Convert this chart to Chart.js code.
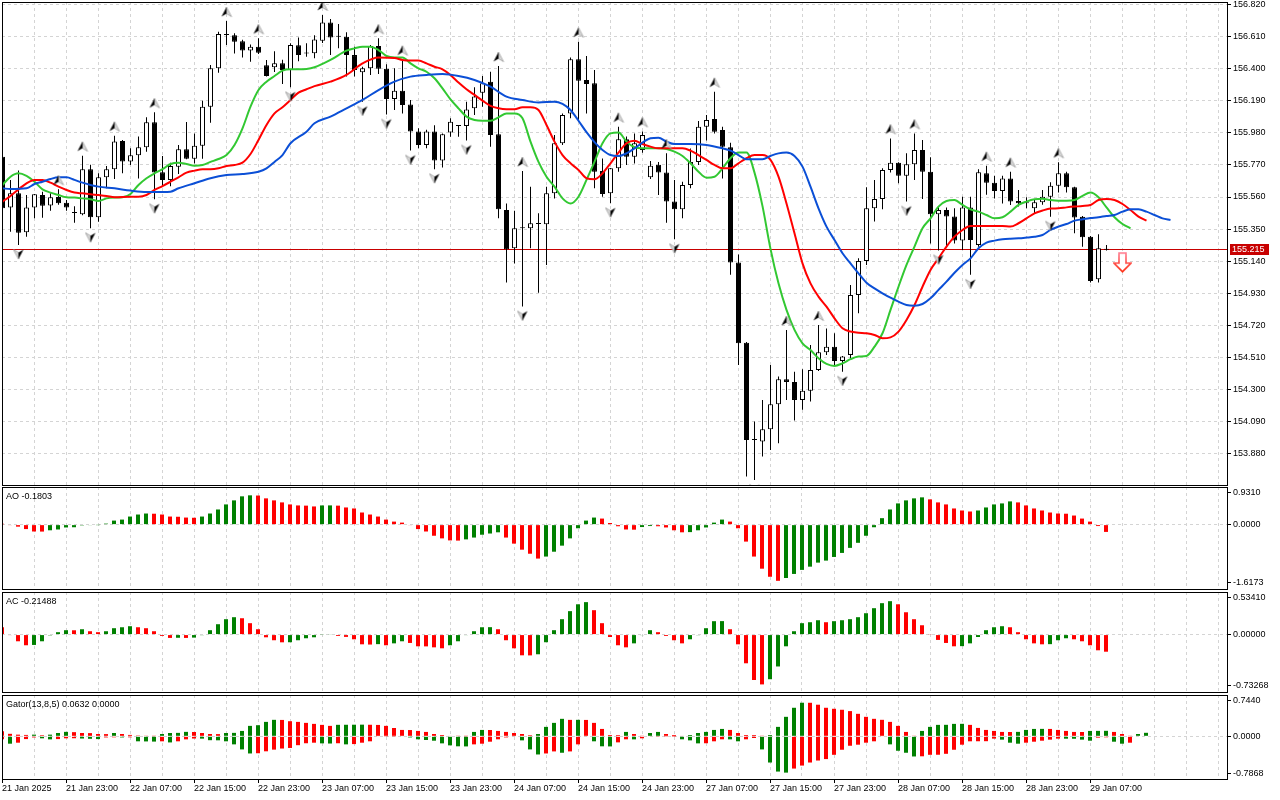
<!DOCTYPE html>
<html>
<head>
<meta charset="utf-8">
<title>USDJPY H1 - Alligator, Fractals, AO, AC, Gator</title>
<script src="https://cdn.jsdelivr.net/npm/chart.js@4.4.1/dist/chart.umd.min.js"></script>
<style>
  html, body { margin: 0; padding: 0; background: #fff; }
  #wrap { position: relative; width: 1280px; height: 800px; overflow: hidden; }
  #wrap canvas { position: absolute; left: 0; }
</style>
</head>
<body>
<div id="wrap">
  <canvas id="main" width="1280" height="487" style="top:0px"></canvas>
  <canvas id="ao" width="1280" height="103" style="top:487px"></canvas>
  <canvas id="ac" width="1280" height="101" style="top:592px"></canvas>
  <canvas id="gator" width="1280" height="105" style="top:695px"></canvas>
</div>
<script>
// ---- candles (H1, bar 0 = 21 Jan 15:00) ----
var opens = [
  155.824, 155.492, 155.584, 155.329, 155.492, 155.573, 155.505, 155.560, 155.523, 155.455,
  155.447, 155.742, 155.427, 155.689, 155.742, 155.927, 155.792, 155.833, 155.886, 156.050,
  155.722, 155.671, 155.759, 155.873, 155.810, 155.896, 156.152, 156.403, 156.628, 156.620,
  156.580, 156.520, 156.545, 156.423, 156.410, 156.436, 156.392, 156.554, 156.500, 156.502,
  156.584, 156.704, 156.610, 156.610, 156.490, 156.377, 156.403, 156.550, 156.400, 156.202,
  156.257, 156.167, 155.990, 155.900, 155.990, 155.800, 155.982, 156.025, 156.025, 156.142,
  156.244, 156.316, 155.971, 155.475, 155.224, 155.355, 155.355, 155.383, 155.381, 155.584,
  155.912, 156.108, 156.462, 156.327, 156.305, 155.730, 155.584, 155.748, 155.938, 155.824,
  155.868, 155.689, 155.772, 155.720, 155.530, 155.479, 155.639, 155.790, 156.021, 156.071,
  155.999, 155.886, 155.130, 154.605, 153.968, 153.957, 154.038, 154.201, 154.365, 154.348,
  154.230, 154.291, 154.426, 154.542, 154.579, 154.485, 154.525, 154.918, 155.141, 155.486,
  155.547, 155.737, 155.785, 155.700, 155.774, 155.868, 155.726, 155.447, 155.475, 155.432,
  155.275, 155.492, 155.245, 155.715, 155.654, 155.600, 155.682, 155.534, 155.519, 155.486,
  155.525, 155.562, 155.634, 155.715, 155.624, 155.431, 155.300, 155.021, 155.221
];
var highs = [
  155.850, 155.672, 155.733, 155.573, 155.580, 155.595, 155.584, 155.610, 155.540, 155.500,
  155.831, 155.772, 155.715, 155.763, 155.962, 155.934, 155.880, 155.956, 156.083, 156.115,
  155.829, 155.785, 155.901, 156.052, 155.977, 156.191, 156.425, 156.643, 156.713, 156.633,
  156.590, 156.560, 156.600, 156.458, 156.516, 156.460, 156.567, 156.606, 156.567, 156.620,
  156.753, 156.726, 156.694, 156.639, 156.545, 156.414, 156.556, 156.600, 156.430, 156.403,
  156.460, 156.196, 156.010, 156.000, 156.030, 155.977, 156.076, 156.032, 156.185, 156.279,
  156.353, 156.381, 156.418, 155.518, 155.470, 155.730, 155.628, 155.453, 155.628, 155.966,
  156.108, 156.475, 156.578, 156.484, 156.392, 155.813, 155.750, 156.021, 155.956, 155.977,
  155.990, 155.796, 155.790, 155.847, 155.672, 155.660, 155.878, 156.058, 156.097, 156.250,
  156.021, 155.916, 155.184, 154.610, 154.088, 154.230, 154.459, 154.383, 154.688, 154.415,
  154.431, 154.590, 154.721, 154.699, 154.667, 154.518, 154.983, 155.158, 155.624, 155.672,
  155.748, 155.944, 155.787, 155.846, 155.977, 155.934, 155.820, 155.497, 155.492, 155.486,
  155.562, 155.562, 155.742, 155.765, 155.700, 155.700, 155.726, 155.606, 155.558, 155.540,
  155.606, 155.656, 155.787, 155.726, 155.628, 155.435, 155.304, 155.316, 155.246
];
var lows = [
  155.470, 155.333, 155.245, 155.300, 155.420, 155.424, 155.470, 155.510, 155.470, 155.392,
  155.440, 155.355, 155.398, 155.617, 155.678, 155.715, 155.770, 155.682, 155.857, 155.545,
  155.630, 155.630, 155.711, 155.807, 155.780, 155.810, 156.047, 156.375, 156.556, 156.500,
  156.475, 156.447, 156.497, 156.350, 156.380, 156.300, 156.279, 156.450, 156.480, 156.469,
  156.570, 156.490, 156.535, 156.349, 156.349, 156.185, 156.360, 156.366, 156.100, 156.130,
  156.108, 155.864, 155.880, 155.880, 155.742, 155.753, 155.955, 155.955, 155.930, 156.097,
  156.152, 155.890, 155.420, 155.000, 155.125, 154.842, 155.224, 154.933, 155.115, 155.551,
  155.900, 156.076, 156.065, 156.108, 155.617, 155.562, 155.519, 155.726, 155.770, 155.780,
  155.850, 155.678, 155.573, 155.392, 155.283, 155.420, 155.617, 155.770, 155.930, 155.977,
  155.682, 155.050, 154.459, 153.728, 153.706, 153.859, 153.902, 153.946, 154.230, 154.095,
  154.165, 154.219, 154.420, 154.525, 154.459, 154.415, 154.503, 154.798, 155.115, 155.399,
  155.480, 155.720, 155.650, 155.530, 155.672, 155.547, 155.256, 155.210, 155.235, 155.256,
  155.213, 155.050, 155.234, 155.574, 155.550, 155.518, 155.508, 155.497, 155.486, 155.454,
  155.510, 155.431, 155.590, 155.590, 155.322, 155.234, 154.999, 154.999, 155.210
];
var closes = [
  155.486, 155.584, 155.326, 155.492, 155.578, 155.503, 155.558, 155.519, 155.492, 155.458,
  155.742, 155.427, 155.689, 155.742, 155.923, 155.792, 155.833, 155.886, 156.050, 155.720,
  155.671, 155.763, 155.873, 155.811, 155.896, 156.152, 156.403, 156.628, 156.622, 156.578,
  156.520, 156.545, 156.506, 156.353, 156.436, 156.392, 156.556, 156.490, 156.502, 156.593,
  156.704, 156.606, 156.612, 156.490, 156.392, 156.403, 156.550, 156.400, 156.202, 156.257,
  156.163, 155.990, 155.900, 155.990, 155.800, 155.971, 156.054, 156.030, 156.134, 156.218,
  156.305, 155.966, 155.480, 155.217, 155.355, 155.356, 155.388, 155.385, 155.584, 155.912,
  156.097, 156.462, 156.322, 156.300, 155.726, 155.580, 155.748, 155.938, 155.824, 155.912,
  155.966, 155.765, 155.720, 155.530, 155.479, 155.639, 155.790, 156.021, 156.065, 155.988,
  155.890, 155.130, 154.601, 153.968, 153.970, 154.038, 154.201, 154.365, 154.348, 154.230,
  154.291, 154.426, 154.542, 154.579, 154.485, 154.514, 154.918, 155.141, 155.486, 155.547,
  155.737, 155.785, 155.700, 155.774, 155.868, 155.726, 155.447, 155.475, 155.432, 155.275,
  155.492, 155.278, 155.722, 155.654, 155.600, 155.682, 155.530, 155.519, 155.520, 155.525,
  155.562, 155.634, 155.715, 155.624, 155.425, 155.296, 155.010, 155.224, 155.215
];
var lastPrice = 155.215;

// ---- Alligator lines [bar index, price] (already shifted forward) ----
var jawLine = [
  [0,155.617],[1,155.612],[3,155.617],[4,155.645],[5,155.660],[6,155.678],[7,155.689],[8,155.689],
  [9,155.672],[10,155.654],[11,155.639],[12,155.628],[14,155.617],[16,155.602],[18,155.593],[20,155.593],
  [21,155.595],[22,155.617],[24,155.650],[26,155.683],[28,155.704],[30,155.711],[32,155.726],[33,155.748],
  [34,155.790],[35,155.835],[36,155.912],[38,155.988],[39,156.043],[41,156.087],[43,156.141],[45,156.196],
  [47,156.261],[49,156.316],[51,156.349],[53,156.360],[55,156.366],[57,156.353],[59,156.327],[61,156.283],
  [63,156.218],[65,156.196],[67,156.179],[69,156.185],[70,156.170],[71,156.130],[72,156.060],[73,155.985],
  [74,155.920],[75,155.868],[76,155.835],[77,155.829],[78,155.846],[79,155.879],[81,155.945],[82,155.949],
  [83,155.923],[84,155.907],[86,155.907],[88,155.901],[90,155.879],[91,155.864],[92,155.835],[93,155.807],
  [94,155.807],[95,155.807],[96,155.829],[97,155.846],[98,155.851],[99,155.829],[100,155.759],[101,155.628],
  [102,155.486],[103,155.366],[104,155.278],[105,155.191],[106,155.125],[107,155.060],[108,154.998],[109,154.961],
  [110,154.929],[111,154.900],[112,154.874],[113,154.852],[114,154.848],[115,154.859],[116,154.896],[117,154.951],
  [118,155.005],[119,155.064],[120,155.115],[121,155.158],[122,155.224],[123,155.261],[124,155.274],[125,155.283],
  [126,155.287],[127,155.289],[128,155.294],[129,155.300],[130,155.311],[131,155.344],[132,155.366],[133,155.383],
  [134,155.405],[135,155.414],[136,155.422],[137,155.427],[138,155.436],[139,155.442],[140,155.464],[141,155.479],
  [142,155.479],[143,155.464],[144,155.442],[145,155.420],[146,155.409]
];
var teethLine = [
  [0,155.530],[1,155.567],[2,155.610],[3,155.650],[4,155.672],[5,155.672],[6,155.654],[7,155.628],
  [8,155.606],[9,155.589],[10,155.584],[11,155.578],[12,155.573],[13,155.567],[14,155.558],[16,155.562],
  [17,155.562],[18,155.573],[19,155.606],[20,155.632],[21,155.660],[22,155.689],[23,155.720],[24,155.733],
  [25,155.742],[26,155.742],[27,155.748],[28,155.763],[29,155.770],[30,155.785],[31,155.842],[32,155.934],
  [33,156.032],[34,156.108],[35,156.148],[36,156.196],[37,156.244],[38,156.266],[39,156.287],[41,156.316],
  [43,156.360],[45,156.436],[47,156.475],[49,156.471],[50,156.458],[51,156.454],[52,156.454],[53,156.436],
  [54,156.414],[55,156.397],[56,156.360],[57,156.310],[58,156.266],[59,156.229],[60,156.192],[61,156.157],
  [62,156.141],[63,156.135],[64,156.135],[65,156.148],[66,156.148],[67,156.130],[68,156.032],[69,155.923],
  [70,155.835],[71,155.781],[72,155.737],[73,155.683],[74,155.676],[75,155.715],[76,155.781],[77,155.851],
  [78,155.912],[79,155.929],[80,155.907],[81,155.890],[82,155.879],[84,155.879],[85,155.879],[86,155.864],
  [87,155.835],[88,155.803],[89,155.770],[90,155.748],[91,155.748],[92,155.781],[93,155.814],[94,155.835],
  [95,155.835],[96,155.803],[97,155.693],[98,155.518],[99,155.322],[100,155.125],[101,154.994],[102,154.907],
  [103,154.841],[104,154.765],[105,154.700],[106,154.678],[107,154.671],[108,154.667],[109,154.656],[110,154.634],
  [111,154.640],[112,154.678],[113,154.754],[114,154.852],[115,154.972],[116,155.082],[117,155.158],[118,155.235],
  [119,155.300],[120,155.344],[121,155.370],[122,155.370],[124,155.370],[125,155.370],[126,155.366],[127,155.388],
  [128,155.420],[129,155.453],[130,155.471],[131,155.484],[132,155.486],[133,155.492],[134,155.497],[135,155.501],
  [136,155.508],[137,155.540],[138,155.547],[139,155.540],[140,155.514],[141,155.475],[142,155.431],[143,155.405]
];
var lipsLine = [
  [0,155.639],[1,155.693],[2,155.715],[3,155.698],[4,155.660],[5,155.610],[6,155.589],[7,155.573],
  [8,155.558],[9,155.556],[10,155.551],[11,155.545],[12,155.534],[13,155.551],[14,155.556],[15,155.558],
  [16,155.580],[17,155.639],[18,155.683],[19,155.715],[20,155.742],[21,155.776],[22,155.785],[23,155.776],
  [24,155.765],[25,155.770],[26,155.790],[27,155.809],[28,155.835],[29,155.901],[30,156.010],[31,156.152],
  [32,156.261],[33,156.316],[34,156.353],[35,156.388],[36,156.397],[37,156.397],[38,156.399],[39,156.410],
  [41,156.458],[43,156.519],[44,156.534],[45,156.545],[46,156.545],[47,156.523],[48,156.484],[49,156.475],
  [50,156.475],[51,156.436],[52,156.403],[53,156.381],[54,156.338],[55,156.272],[56,156.200],[57,156.141],
  [58,156.087],[59,156.065],[60,156.060],[61,156.060],[62,156.082],[63,156.108],[64,156.108],[65,156.076],
  [66,155.923],[67,155.790],[68,155.693],[69,155.628],[70,155.551],[71,155.518],[72,155.562],[73,155.672],
  [74,155.790],[75,155.912],[76,155.977],[77,155.982],[78,155.923],[79,155.886],[80,155.879],[82,155.879],
  [83,155.875],[84,155.857],[85,155.829],[86,155.781],[87,155.726],[88,155.687],[89,155.693],[90,155.748],
  [91,155.814],[92,155.851],[93,155.851],[94,155.720],[95,155.500],[96,155.220],[97,154.994],[98,154.820],
  [99,154.689],[100,154.601],[101,154.557],[102,154.503],[103,154.466],[104,154.453],[105,154.470],[106,154.497],
  [107,154.514],[108,154.518],[109,154.579],[110,154.667],[111,154.820],[112,154.972],[113,155.115],[114,155.235],
  [115,155.355],[116,155.420],[117,155.497],[118,155.534],[119,155.540],[120,155.508],[121,155.479],[122,155.464],
  [123,155.442],[124,155.420],[125,155.427],[126,155.464],[127,155.508],[128,155.530],[129,155.545],[130,155.549],
  [131,155.540],[132,155.536],[133,155.536],[134,155.540],[135,155.567],[136,155.589],[137,155.558],[138,155.492],
  [139,155.427],[140,155.383],[141,155.355]
];

// ---- Fractals and signal ----
var fractalUp = [7, 10, 14, 19, 28, 32, 40, 47, 50, 62, 65, 72, 77, 80, 83, 89, 98, 102, 111, 114, 123, 126, 132];
var fractalDown = [2, 11, 19, 36, 45, 48, 51, 54, 58, 65, 76, 84, 94, 105, 113, 117, 121, 131];
var sellSignal = [[140, 155.13]];

// ---- Oscillators ----
var aoValues = [
  0.02, -0.01, -0.05, -0.11, -0.17, -0.172, -0.14, -0.12, -0.07, -0.065,
  -0.02, -0.01, -0.005, 0.025, 0.10, 0.125, 0.20, 0.25, 0.275, 0.27,
  0.25, 0.20, 0.195, 0.175, 0.17, 0.20, 0.275, 0.375, 0.50, 0.60,
  0.70, 0.725, 0.72, 0.65, 0.60, 0.55, 0.50, 0.475, 0.47, 0.45,
  0.475, 0.476, 0.47, 0.425, 0.40, 0.30, 0.25, 0.20, 0.125, 0.075,
  0.05, -0.01, -0.11, -0.17, -0.275, -0.34, -0.39, -0.395, -0.365, -0.32,
  -0.25, -0.22, -0.19, -0.32, -0.47, -0.62, -0.72, -0.84, -0.79, -0.67,
  -0.52, -0.34, -0.09, 0.10, 0.175, 0.15, 0.04, -0.04, -0.12, -0.125,
  -0.06, -0.035, -0.04, -0.07, -0.14, -0.19, -0.185, -0.14, -0.07, 0.05,
  0.125, 0.075, -0.09, -0.42, -0.79, -1.09, -1.29, -1.39, -1.32, -1.22,
  -1.12, -1.04, -0.94, -0.89, -0.80, -0.70, -0.575, -0.45, -0.275, -0.065,
  0.16, 0.375, 0.525, 0.60, 0.65, 0.675, 0.625, 0.55, 0.50, 0.40,
  0.35, 0.325, 0.35, 0.425, 0.50, 0.525, 0.575, 0.55, 0.475, 0.40,
  0.35, 0.30, 0.275, 0.27, 0.225, 0.15, 0.075, -0.035, -0.1803
];
var acValues = [
  0.092, -0.005, -0.084, -0.134, -0.13, -0.084, -0.01, 0.03, 0.055, 0.054,
  0.067, 0.042, 0.03, 0.042, 0.08, 0.092, 0.105, 0.092, 0.08, 0.042,
  -0.017, -0.042, -0.04, -0.042, -0.038, -0.008, 0.055, 0.13, 0.193, 0.218,
  0.205, 0.143, 0.067, -0.034, -0.071, -0.097, -0.096, -0.071, -0.046, -0.034,
  0.004, 0.005, -0.017, -0.029, -0.059, -0.122, -0.125, -0.12, -0.134, -0.11,
  -0.084, -0.105, -0.147, -0.148, -0.16, -0.172, -0.134, -0.084, -0.005, 0.042,
  0.092, 0.093, 0.067, -0.071, -0.172, -0.26, -0.261, -0.247, -0.096, 0.055,
  0.193, 0.294, 0.38, 0.407, 0.306, 0.143, -0.03, -0.134, -0.16, -0.11,
  -0.005, 0.055, 0.03, -0.017, -0.071, -0.11, -0.059, -0.008, 0.08, 0.168,
  0.169, 0.067, -0.122, -0.36, -0.57, -0.625, -0.56, -0.40, -0.147, 0.042,
  0.143, 0.155, 0.18, 0.155, 0.168, 0.18, 0.193, 0.218, 0.268, 0.331,
  0.394, 0.419, 0.38, 0.28, 0.193, 0.117, 0.004, -0.067, -0.105, -0.147,
  -0.145, -0.11, -0.03, 0.055, 0.092, 0.105, 0.092, 0.03, -0.059, -0.11,
  -0.122, -0.12, -0.071, -0.046, -0.059, -0.084, -0.134, -0.197, -0.21488
];
var gatorUpper = [
  0.090, 0.045, 0.030, 0.025, 0.030, 0.020, 0.030, 0.060, 0.080, 0.075,
  0.060, 0.058, 0.042, 0.040, 0.060, 0.042, 0.025, 0.015, 0.006, 0.004,
  0.042, 0.060, 0.062, 0.080, 0.078, 0.060, 0.042, 0.040, 0.060, 0.062,
  0.097, 0.188, 0.200, 0.260, 0.297, 0.295, 0.272, 0.260, 0.242, 0.224,
  0.206, 0.188, 0.207, 0.208, 0.209, 0.210, 0.208, 0.205, 0.188, 0.150,
  0.115, 0.113, 0.097, 0.079, 0.042, 0.024, 0.010, 0.005, 0.003, 0.079,
  0.115, 0.114, 0.097, 0.079, 0.060, 0.042, 0.020, 0.042, 0.170, 0.242,
  0.315, 0.296, 0.297, 0.295, 0.242, 0.133, 0.024, 0.022, 0.079, 0.042,
  0.006, 0.060, 0.079, 0.042, 0.024, 0.010, 0.024, 0.060, 0.079, 0.115,
  0.133, 0.115, 0.060, 0.024, 0.023, 0.005, 0.024, 0.170, 0.351, 0.514,
  0.605, 0.604, 0.569, 0.514, 0.496, 0.478, 0.454, 0.405, 0.351, 0.315,
  0.297, 0.260, 0.188, 0.079, 0.006, 0.097, 0.170, 0.206, 0.207, 0.224,
  0.225, 0.206, 0.151, 0.115, 0.097, 0.079, 0.078, 0.080, 0.115, 0.133,
  0.134, 0.133, 0.115, 0.097, 0.079, 0.078, 0.097, 0.098, 0.099, 0.079,
  0.042, 0.006, 0.042, 0.0632
];
var gatorLower = [
  -0.055, -0.133, -0.115, -0.050, -0.020, -0.036, -0.055, -0.050, -0.036, -0.035,
  -0.040, -0.045, -0.050, -0.020, -0.018, -0.020, -0.018, -0.090, -0.092, -0.095,
  -0.090, -0.110, -0.090, -0.055, -0.040, -0.042, -0.070, -0.072, -0.090, -0.145,
  -0.236, -0.309, -0.305, -0.270, -0.240, -0.220, -0.210, -0.160, -0.125, -0.115,
  -0.127, -0.130, -0.125, -0.145, -0.140, -0.115, -0.090, -0.010, -0.005, -0.004,
  -0.010, -0.020, -0.054, -0.066, -0.079, -0.127, -0.163, -0.180, -0.182, -0.145,
  -0.133, -0.097, -0.054, -0.020, -0.010, -0.073, -0.236, -0.327, -0.309, -0.272,
  -0.296, -0.272, -0.145, -0.010, -0.090, -0.180, -0.182, -0.109, -0.054, -0.055,
  -0.036, -0.010, -0.005, -0.004, -0.002, -0.054, -0.073, -0.127, -0.125, -0.090,
  -0.054, -0.055, -0.090, -0.054, -0.030, -0.236, -0.472, -0.635, -0.654, -0.581,
  -0.527, -0.472, -0.436, -0.410, -0.333, -0.242, -0.170, -0.151, -0.115, -0.090,
  -0.010, -0.145, -0.260, -0.296, -0.363, -0.360, -0.333, -0.332, -0.315, -0.242,
  -0.151, -0.090, -0.089, -0.088, -0.042, -0.060, -0.115, -0.133, -0.115, -0.097,
  -0.079, -0.060, -0.042, -0.043, -0.044, -0.060, -0.079, -0.024, -0.018, -0.097,
  -0.133, -0.115, null, null
];

// ---- axes ----
var priceTicks = [156.820, 156.610, 156.400, 156.190, 155.980, 155.770, 155.560, 155.350,
                  155.140, 154.930, 154.720, 154.510, 154.300, 154.090, 153.880];
var aoRange = [-1.6173, 0.9310], aoTickLabels = ['0.9310', '0.0000', '-1.6173'];
var acRange = [-0.73268, 0.53410], acTickLabels = ['0.53410', '0.00000', '-0.73268'];
var gatorRange = [-0.7868, 0.7440], gatorTickLabels = ['0.7440', '0.0000', '-0.7868'];
var timeLabels = ['21 Jan 2025', '21 Jan 23:00', '22 Jan 07:00', '22 Jan 15:00', '22 Jan 23:00',
  '23 Jan 07:00', '23 Jan 15:00', '23 Jan 23:00', '24 Jan 07:00', '24 Jan 15:00', '24 Jan 23:00',
  '27 Jan 07:00', '27 Jan 15:00', '27 Jan 23:00', '28 Jan 07:00', '28 Jan 15:00', '28 Jan 23:00',
  '29 Jan 07:00'];

var FONT_FAMILY = "'Liberation Sans', Arial, sans-serif";
var FONT = { family: FONT_FAMILY, size: 9 };
var GRID = '#d4d4d4';
var GREEN = '#008000', RED = '#ff0000';
var BAR_PX = 8;      // pixels per bar
var PLOT_W = 1225;   // plot width in pixels

var gridSteps = [];
for (var g = 0; g <= 152; g += 4) gridSteps.push(g);

Chart.defaults.font.family = FONT_FAMILY;
Chart.defaults.font.size = 9;
Chart.defaults.color = '#000';

// ---- glyphs ----
function fractalGlyph(up) {
  var c = document.createElement('canvas');
  c.width = 12; c.height = 30;
  var ctx = c.getContext('2d');
  var cy = up ? 6 : 24, s = up ? 1 : -1;
  var tip = [6, cy - 5 * s], a = [1, cy + 4.5 * s], b = [11, cy + 4.5 * s], n = [6, cy + 1.5 * s];
  var dark = up ? a : b, light = up ? b : a;
  ctx.beginPath();
  ctx.moveTo(tip[0], tip[1]); ctx.lineTo(light[0], light[1]); ctx.lineTo(n[0], n[1]); ctx.closePath();
  ctx.fillStyle = '#dcdcdc'; ctx.fill();
  ctx.strokeStyle = '#9a9a9a'; ctx.lineWidth = 0.8; ctx.stroke();
  ctx.beginPath();
  ctx.moveTo(tip[0], tip[1]); ctx.lineTo(dark[0], dark[1]); ctx.lineTo(n[0], n[1]); ctx.closePath();
  ctx.fillStyle = '#000'; ctx.fill();
  return c;
}

function sellArrowGlyph() {
  var c = document.createElement('canvas');
  c.width = 19; c.height = 21;
  var ctx = c.getContext('2d');
  var grad = ctx.createLinearGradient(0, 0, 0, 21);
  grad.addColorStop(0, '#ff7f95');
  grad.addColorStop(1, '#ff2000');
  ctx.beginPath();
  ctx.moveTo(6, 1); ctx.lineTo(13, 1); ctx.lineTo(13, 11); ctx.lineTo(18, 11);
  ctx.lineTo(9.5, 19.5); ctx.lineTo(1, 11); ctx.lineTo(6, 11); ctx.closePath();
  ctx.fillStyle = '#fff'; ctx.fill();
  ctx.lineWidth = 1.6; ctx.strokeStyle = grad; ctx.stroke();
  return c;
}

// ---- helpers ----
function risingColors(vals) {
  return vals.map(function (v, i) { return (i > 0 && v > vals[i - 1]) ? GREEN : RED; });
}
function gatorColors(vals) {
  return vals.map(function (v, i) {
    if (v === null) return RED;
    return (i > 0 && vals[i - 1] !== null && Math.abs(v) > Math.abs(vals[i - 1])) ? GREEN : RED;
  });
}
function toPoints(vals) {
  return vals.map(function (v, i) { return { x: i, y: v }; });
}

var framePlugin = {
  id: 'frame',
  afterDraw: function (chart) {
    var a = chart.chartArea, ctx = chart.ctx;
    ctx.save();
    ctx.strokeStyle = '#000';
    ctx.lineWidth = 1;
    ctx.strokeRect(a.left + 0.5, a.top + 0.5, a.right - a.left, a.bottom - a.top - 1);
    ctx.restore();
  }
};

var titlePlugin = {
  id: 'panelTitle',
  afterDraw: function (chart, args, opts) {
    if (!opts || !opts.text) return;
    var ctx = chart.ctx;
    ctx.save();
    ctx.font = '9px ' + FONT_FAMILY;
    ctx.fillStyle = '#000';
    ctx.textBaseline = 'middle';
    ctx.fillText(opts.text, chart.chartArea.left + 4, chart.chartArea.top + 9.5);
    ctx.restore();
  }
};

var bidPlugin = {
  id: 'bidLine',
  beforeDatasetsDraw: function (chart) {
    var a = chart.chartArea, ctx = chart.ctx;
    var y = Math.floor(chart.scales.y.getPixelForValue(lastPrice)) + 0.5;
    ctx.save();
    ctx.strokeStyle = '#c80000';
    ctx.lineWidth = 1;
    ctx.beginPath(); ctx.moveTo(a.left, y); ctx.lineTo(a.right, y); ctx.stroke();
    ctx.restore();
  },
  afterDraw: function (chart) {
    var a = chart.chartArea, ctx = chart.ctx;
    var y = Math.floor(chart.scales.y.getPixelForValue(lastPrice)) + 0.5;
    ctx.save();
    ctx.fillStyle = '#c80000';
    ctx.fillRect(a.right + 3, Math.round(y - 5.5), 39, 11);
    ctx.fillStyle = '#fff';
    ctx.font = '9px ' + FONT_FAMILY;
    ctx.textBaseline = 'middle';
    ctx.fillText(lastPrice.toFixed(3), a.right + 5, y + 0.5);
    ctx.restore();
  }
};

function xScale(min, withLabels) {
  return {
    type: 'linear',
    min: min,
    max: min + PLOT_W / BAR_PX,
    offset: false,
    afterBuildTicks: function (s) { s.ticks = gridSteps.map(function (v) { return { value: v }; }); },
    afterFit: function (s) { s.paddingLeft = 0; s.paddingRight = 0; s.height = withLabels ? 20 : 0; },
    grid: {
      offset: false,
      color: GRID,
      drawTicks: withLabels,
      tickLength: 3,
      tickBorderDash: [],
      tickColor: function (c) {
        return (c.tick && c.tick.value % 8 === 0 && timeLabels[c.tick.value / 8]) ? '#000' : 'rgba(0,0,0,0)';
      }
    },
    border: { display: false, dash: [3, 3] },
    ticks: {
      display: withLabels,
      autoSkip: false,
      maxRotation: 0,
      minRotation: 0,
      align: 'start',
      padding: 0,
      font: FONT,
      color: '#000',
      callback: function (v) { return v % 8 === 0 ? (timeLabels[v / 8] || '') : ''; }
    }
  };
}

function indicatorY(range, labels) {
  var min = range[0], max = range[1];
  return {
    position: 'right',
    min: min,
    max: max,
    beginAtZero: false,
    afterBuildTicks: function (s) { s.ticks = [{ value: min }, { value: 0 }, { value: max }]; },
    afterFit: function (s) {
      s.width = 53; s.paddingTop = 0; s.paddingBottom = 0;
      var u = (max - min) / s.height;
      s.ticks[0].value = min + 6 * u;
      s.ticks[2].value = max - 5 * u;
    },
    grid: {
      color: function (c) { return c.index === 1 ? GRID : 'rgba(0,0,0,0)'; },
      tickColor: '#000',
      tickLength: 4,
      tickBorderDash: []
    },
    border: { display: false, dash: [3, 3] },
    ticks: { font: FONT, color: '#000', padding: 2, callback: function (v, i) { return labels[2 - i]; } }
  };
}

function baseOptions(scales, padding, title) {
  return {
    responsive: false,
    animation: false,
    events: [],
    layout: { padding: padding, autoPadding: false },
    scales: scales,
    plugins: {
      legend: { display: false },
      tooltip: { enabled: false },
      panelTitle: { text: title }
    }
  };
}

// ---- main price chart ----
var upGlyph = fractalGlyph(true), downGlyph = fractalGlyph(false);

new Chart(document.getElementById('main'), {
  type: 'bar',
  data: {
    datasets: [
      {
        type: 'scatter', order: 0,
        data: sellSignal.map(function (p) { return { x: p[0], y: p[1] }; }),
        pointStyle: sellArrowGlyph(), pointRadius: 5
      },
      {
        type: 'scatter', order: 1,
        data: fractalUp.map(function (k) { return { x: k, y: highs[k] }; }),
        pointStyle: upGlyph, pointRadius: 5
      },
      {
        type: 'scatter', order: 1,
        data: fractalDown.map(function (k) { return { x: k, y: lows[k] }; }),
        pointStyle: downGlyph, pointRadius: 5
      },
      {
        type: 'line', order: 2, label: 'Jaws',
        data: jawLine.map(function (p) { return { x: p[0], y: p[1] }; }),
        borderColor: '#0b4fd6', borderWidth: 2, pointRadius: 0, fill: false,
        cubicInterpolationMode: 'monotone'
      },
      {
        type: 'line', order: 2, label: 'Teeth',
        data: teethLine.map(function (p) { return { x: p[0], y: p[1] }; }),
        borderColor: '#ff0000', borderWidth: 2, pointRadius: 0, fill: false,
        cubicInterpolationMode: 'monotone'
      },
      {
        type: 'line', order: 2, label: 'Lips',
        data: lipsLine.map(function (p) { return { x: p[0], y: p[1] }; }),
        borderColor: '#32c832', borderWidth: 2, pointRadius: 0, fill: false,
        cubicInterpolationMode: 'monotone'
      },
      {
        order: 3, label: 'body',
        data: opens.map(function (o, i) { return { x: i, y: [o, closes[i]] }; }),
        backgroundColor: opens.map(function (o, i) { return closes[i] >= o ? '#ffffff' : '#000000'; }),
        borderColor: '#000', borderWidth: 1, borderSkipped: false,
        grouped: false, barPercentage: 1, categoryPercentage: 1, maxBarThickness: 5,
        minBarLength: 1, inflateAmount: 0
      },
      {
        order: 4, label: 'wick',
        data: lows.map(function (l, i) { return { x: i, y: [l, highs[i]] }; }),
        backgroundColor: '#000', borderWidth: 0,
        grouped: false, barPercentage: 1, categoryPercentage: 1, maxBarThickness: 1,
        inflateAmount: 0
      }
    ]
  },
  options: baseOptions({
    x: xScale(-0.0625, false),
    y: {
      position: 'right',
      min: 153.666,
      max: 156.838,
      beginAtZero: false,
      afterBuildTicks: function (s) {
        s.ticks = priceTicks.slice().sort(function (a, b) { return a - b; }).map(function (v) { return { value: v }; });
      },
      afterFit: function (s) { s.width = 53; s.paddingTop = 0; s.paddingBottom = 0; },
      grid: { color: GRID, tickColor: '#000', tickLength: 4, tickBorderDash: [] },
      border: { display: false, dash: [3, 3] },
      ticks: { font: FONT, color: '#000', padding: 2, callback: function (v) { return v.toFixed(3); } }
    }
  }, { left: 2, top: 2, right: 0, bottom: 1 }, null),
  plugins: [bidPlugin, framePlugin]
});

// ---- Awesome Oscillator ----
new Chart(document.getElementById('ao'), {
  type: 'bar',
  data: {
    datasets: [{
      data: toPoints(aoValues),
      backgroundColor: risingColors(aoValues),
      borderWidth: 0, grouped: false, barPercentage: 1, categoryPercentage: 1,
      maxBarThickness: 4, inflateAmount: 0
    }]
  },
  options: baseOptions({ x: xScale(0, false), y: indicatorY(aoRange, aoTickLabels) },
    { left: 2, top: 0, right: 0, bottom: 0 },
    'AO ' + aoValues[aoValues.length - 1].toFixed(4)),
  plugins: [framePlugin, titlePlugin]
});

// ---- Accelerator Oscillator ----
new Chart(document.getElementById('ac'), {
  type: 'bar',
  data: {
    datasets: [{
      data: toPoints(acValues),
      backgroundColor: risingColors(acValues),
      borderWidth: 0, grouped: false, barPercentage: 1, categoryPercentage: 1,
      maxBarThickness: 4, inflateAmount: 0
    }]
  },
  options: baseOptions({ x: xScale(0, false), y: indicatorY(acRange, acTickLabels) },
    { left: 2, top: 0, right: 0, bottom: 0 },
    'AC ' + acValues[acValues.length - 1].toFixed(5)),
  plugins: [framePlugin, titlePlugin]
});

// ---- Gator Oscillator ----
var gatorLastLower = gatorLower[gatorLower.length - 1] === null ? 0 : gatorLower[gatorLower.length - 1];
new Chart(document.getElementById('gator'), {
  type: 'bar',
  data: {
    datasets: [
      {
        data: toPoints(gatorUpper),
        backgroundColor: gatorColors(gatorUpper),
        borderWidth: 0, grouped: false, barPercentage: 1, categoryPercentage: 1,
        maxBarThickness: 4, inflateAmount: 0
      },
      {
        data: toPoints(gatorLower),
        backgroundColor: gatorColors(gatorLower),
        borderWidth: 0, grouped: false, barPercentage: 1, categoryPercentage: 1,
        maxBarThickness: 4, inflateAmount: 0
      }
    ]
  },
  options: baseOptions({ x: xScale(0, true), y: indicatorY(gatorRange, gatorTickLabels) },
    { left: 2, top: 0, right: 0, bottom: 0 },
    'Gator(13,8,5) ' + gatorUpper[gatorUpper.length - 1].toFixed(4) + ' ' + Math.abs(gatorLastLower).toFixed(4)),
  plugins: [framePlugin, titlePlugin]
});
</script>
</body>
</html>
